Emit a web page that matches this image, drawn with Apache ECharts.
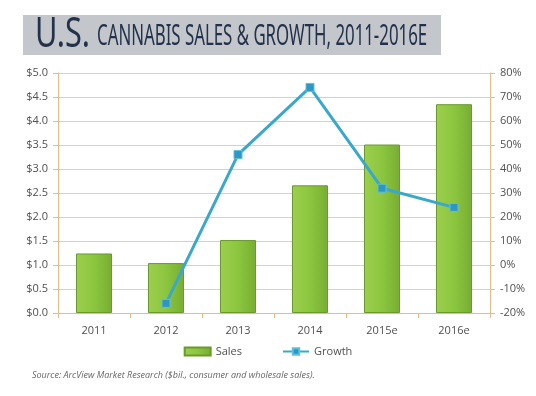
<!DOCTYPE html>
<html>
<head>
<meta charset="utf-8">
<script src="https://cdn.jsdelivr.net/npm/echarts@6/dist/echarts.min.js"></script>
<style>
  html, body { margin: 0; padding: 0; background: #fff; }
  #chart { width: 536px; height: 396px; }
</style>
</head>
<body>
<div id="chart"></div>
<script>
const years = ["2011", "2012", "2013", "2014", "2015e", "2016e"];
const sales = [1.24, 1.04, 1.52, 2.66, 3.51, 4.35];
const growth = [null, -16, 46, 74, 32, 24];

const gridColor = "#eecba0";
const axisColor = "#e6bb86";
const labelColor = "#505050";

const chart = echarts.init(document.getElementById("chart"));

const option = {
  backgroundColor: "#fff",
  graphic: [
    // 标题底色
    { type: "rect", left: 23, top: 15, shape: { width: 418, height: 40 }, style: { fill: "#c3c6cb" } },
    { type: "text", x: 35, y: 14, scaleX: 0.73, style: { text: "U.S.", font: "42px 'Noto Sans', sans-serif", fill: "#22324a" } },
    { type: "text", x: 97, y: 22, scaleX: 0.58, style: { text: "CANNABIS SALES & GROWTH, 2011-2016E", font: "29px 'Noto Sans', sans-serif", fill: "#22324a" } },
    { type: "text", x: 32, y: 371, style: { text: "Source: ArcView Market Research ($bil., consumer and wholesale sales).", font: "italic 9px 'Open Sans', sans-serif", fill: "#666" } }
  ],
  legend: {
    bottom: 34,
    left: "center",
    itemGap: 40,
    itemWidth: 26,
    itemHeight: 8,
    textStyle: { color: labelColor, fontSize: 11, fontFamily: "'Open Sans', sans-serif" },
    data: [
      { name: "Sales", icon: "rect" },
      { name: "Growth" }
    ]
  },
  grid: { left: 58, right: 46, top: 73, bottom: 83 },
  xAxis: {
    type: "category",
    data: years,
    axisLine: { lineStyle: { color: axisColor, width: 1 } },
    axisTick: { show: true, lineStyle: { color: axisColor }, length: 5 },
    axisLabel: { color: labelColor, fontSize: 11, margin: 12, fontFamily: "'Open Sans', sans-serif" }
  },
  yAxis: [
    {
      type: "value",
      min: 0, max: 5, interval: 0.5,
      axisLine: { show: true, lineStyle: { color: axisColor } },
      axisTick: { show: true, lineStyle: { color: axisColor }, length: 5 },
      splitLine: { lineStyle: { color: gridColor } },
      axisLabel: { color: labelColor, fontSize: 11, margin: 10, fontFamily: "'Open Sans', sans-serif",
        formatter: v => "$" + v.toFixed(1) }
    },
    {
      type: "value",
      min: -20, max: 80, interval: 10,
      axisLine: { show: true, lineStyle: { color: axisColor } },
      axisTick: { show: true, lineStyle: { color: axisColor }, length: 5 },
      splitLine: { show: false },
      axisLabel: { color: labelColor, fontSize: 11, margin: 10, fontFamily: "'Open Sans', sans-serif",
        formatter: v => v + "%" }
    }
  ],
  series: [
    {
      name: "Sales",
      type: "bar",
      data: sales,
      barWidth: "50%",
      itemStyle: {
        color: new echarts.graphic.LinearGradient(0, 0, 1, 0, [
          { offset: 0, color: "#9ccf4e" },
          { offset: 0.5, color: "#8cc63f" },
          { offset: 1, color: "#77ad31" }
        ]),
        borderColor: "#6a9a2a",
        borderWidth: 1
      }
    },
    {
      name: "Growth",
      type: "line",
      yAxisIndex: 1,
      data: growth,
      symbol: "rect",
      symbolSize: 8,
      lineStyle: { color: "#3aa8cd", width: 3 },
      itemStyle: { color: "#2f96c4", borderColor: "#5cc0e0", borderWidth: 1 }
    }
  ]
};

chart.setOption(option);
</script>
</body>
</html>
